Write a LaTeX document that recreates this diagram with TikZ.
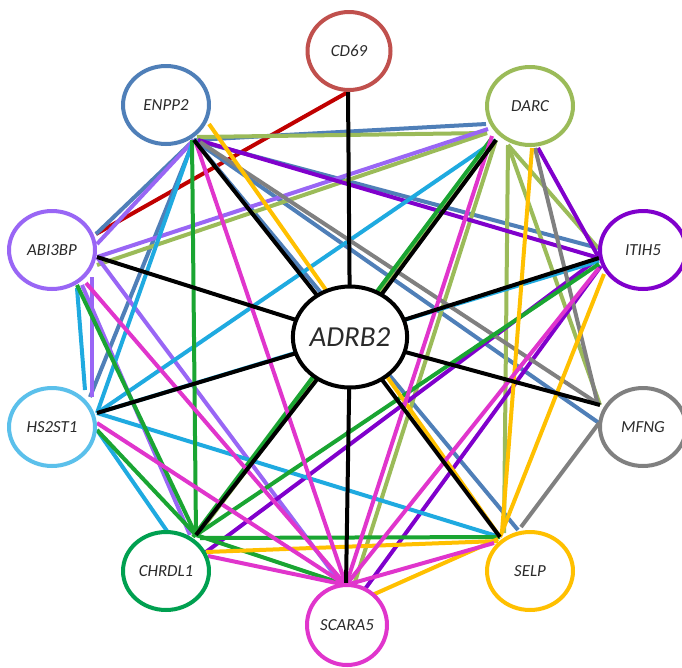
\documentclass[tikz,border=0pt]{standalone}
\usepackage{fontspec}
\setmainfont{Carlito}
\usetikzlibrary{shapes.geometric,backgrounds,calc}
\pgfdeclarelayer{paper}
\pgfsetlayers{paper,background,main}
\definecolor{cCD}{HTML}{C0504D}
\definecolor{lRed}{HTML}{C00000}
\definecolor{cEN}{HTML}{4F7FB8}
\definecolor{cDA}{HTML}{9BBB59}
\definecolor{cAB}{HTML}{9966F5}
\definecolor{cIT}{HTML}{8000CC}
\definecolor{cHSo}{HTML}{5BC0EB}
\definecolor{cHS}{HTML}{1FAAE0}
\definecolor{cMF}{HTML}{808080}
\definecolor{cCHo}{HTML}{00A050}
\definecolor{cCH}{HTML}{1AA532}
\definecolor{cSE}{HTML}{FFC000}
\definecolor{cSC}{HTML}{E035CC}
\definecolor{txt}{HTML}{2A2A2A}
\tikzset{
  gene/.style={ellipse, draw, line width=0.08cm, fill=white, inner sep=0pt,
    minimum width=1.72cm, minimum height=1.56cm, text=txt,
    font=\fontsize{9.6}{11}\selectfont\itshape},
  hubgene/.style={ellipse, draw=black, line width=0.08cm, fill=white, inner sep=0pt,
    minimum width=2.2cm, minimum height=2.02cm, text=txt,
    font=\fontsize{16.5}{19}\selectfont\itshape},
  ln/.style={line width=0.08cm},
}
\begin{document}
\begin{tikzpicture}[x=0.02cm,y=-0.02cm]
\useasboundingbox (0,0) rectangle (682,667);
\clip (0,0) rectangle (682,667);
\begin{pgfonlayer}{paper}
\fill[white] (0,0) rectangle (682,667);
\end{pgfonlayer}
% nodes
\node[gene, draw=cCD, minimum width=1.66cm] (CD) at (349,51) {CD69};
\node[gene, draw=cEN] (EN) at (166,105) {ENPP2};
\node[gene, draw=cDA] (DA) at (530,106) {DARC};
\node[gene, draw=cAB] (AB) at (52,250) {ABI3BP};
\node[gene, draw=cIT] (IT) at (643,250) {ITIH5};
\node[gene, draw=cHSo] (HS) at (52,427) {HS2ST1};
\node[gene, draw=cMF] (MF) at (643,427) {MFNG};
\node[gene, draw=cCHo] (CH) at (166,571) {CHRDL1};
\node[gene, draw=cSE] (SE) at (530,571) {SELP};
\node[gene, draw=cSC, minimum width=1.6cm, minimum height=1.6cm] (SC) at (347,625) {SCARA5};
\node[hubgene] (AD) at (350,337) {ADRB2};
% hub points
\coordinate (CDh) at ($(CD)+(-1,41)$);
\coordinate (ENh) at ($(EN)+(28,35)$);
\coordinate (ENy) at ($(EN)+(43,19)$);
\coordinate (DAl) at ($(DA)+(-44,18)$);
\coordinate (DAl2) at ($(DA)+(-43,27)$);
\coordinate (DAh) at ($(DA)+(-34,34)$);
\coordinate (DAd) at ($(DA)+(-22,39)$);
\coordinate (DAb) at ($(DA)+(2,42)$);
\coordinate (DAb2) at ($(DA)+(8,42)$);
\coordinate (ABu) at ($(AB)+(44,-16)$);
\coordinate (ABh) at ($(AB)+(45,7)$);
\coordinate (ABb) at ($(AB)+(30,35)$);
\coordinate (ITh) at ($(IT)+(-44,8)$);
\coordinate (ITu) at ($(IT)+(-45,-2)$);
\coordinate (ITy) at ($(IT)+(-39,24)$);
\coordinate (HSh) at ($(HS)+(45,-14)$);
\coordinate (MFh) at ($(MF)+(-43,-22)$);
\coordinate (MFl) at ($(MF)+(-44,-4)$);
\coordinate (CHh) at ($(CH)+(30,-36)$);
\coordinate (CHr) at ($(CH)+(40,-19)$);
\coordinate (SEh) at ($(SE)+(-30,-34)$);
\coordinate (SCh) at ($(SC)+(-1,-40)$);
\coordinate (SCr) at ($(SC)+(23,-29)$);
\begin{pgfonlayer}{background}
% CD69
\draw[ln, lRed] (CDh) -- (ABu);
% ENPP2 (steel blue)
\draw[ln, cEN] (ENh) -- (DAl);
\draw[ln, cEN] (ENh) -- (ITu);
\draw[ln, cEN] (ENh) -- (MFl);
\draw[ln, cEN] (ENh) -- ($(SE)+(-12,-41)$);
\draw[ln, cEN] (ENh) -- ($(HS)+(38,-30)$);
\draw[ln, cEN] (ENh) -- (ABu);
% DARC (olive)
\draw[ln, cDA] ($(ENh)+(3,-3)$) -- (DAl2);
\draw[ln, cDA] ($(ABh)+(0,8)$) -- (DAl2);
\draw[ln, cDA] (DAh) -- ($(CHh)+(3,-2)$);
\draw[ln, cDA] (DAh) -- ($(SCh)+(8,0)$);
\draw[ln, cDA] (DAd) -- ($(SEh)+(4,-4)$);
\draw[ln, cDA] (DAd) -- (MFh);
\draw[ln, cDA] (DAd) -- (ITu);
% ABI3BP (lavender)
\draw[ln, cAB] ($(AB)+(45,-6)$) -- (ENh);
\draw[ln, cAB] (ABh) -- ($(DA)+(-42,23)$);
\draw[ln, cAB] ($(AB)+(40,27)$) -- ($(HS)+(40,-30)$);
\draw[ln, cAB] (ABb) -- ($(CHh)+(-6,0)$);
\draw[ln, cAB] (ABh) -- ($(SCh)+(-4,0)$);
% ITIH5 (purple)
\draw[ln, cIT] (ITh) -- ($(ENh)+(4,0)$);
\draw[ln, cIT] (DAb2) -- (ITh);
\draw[ln, cIT] (ITh) -- (CHr);
\draw[ln, cIT] ($(ITh)+(2,8)$) -- ($(SC)+(18,-36)$);
% HS2ST1 (cyan)
\draw[ln, cHS] (HSh) -- ($(ENh)+(-2,4)$);
\draw[ln, cHS] (HSh) -- (DAh);
\draw[ln, cHS] ($(AB)+(25,38)$) -- ($(HS)+(33,-37)$);
\draw[ln, cHS] ($(HS)+(45,3)$) -- ($(CH)+(1,-40)$);
\draw[ln, cHS] (HSh) -- (SEh);
\draw[ln, cHS] (HSh) -- ($(ITh)+(0,3)$);
% MFNG (gray)
\draw[ln, cMF] (MFh) -- ($(ENh)+(6,2)$);
\draw[ln, cMF] ($(MFh)+(-2,0)$) -- ($(DA)+(5,42)$);
\draw[ln, cMF] (MFl) -- ($(SE)+(-9,-44)$);
% CHRDL1 (green)
\draw[ln, cCH] (CHh) -- ($(ENh)+(-2,0)$);
\draw[ln, cCH] ($(CHh)+(-3,2)$) -- ($(DAh)+(-4,-2)$);
\draw[ln, cCH] (CHh) -- ($(ITh)+(0,6)$);
\draw[ln, cCH] ($(CHh)+(4,3)$) -- (SEh);
\draw[ln, cCH] (CHh) -- (SCh);
\draw[ln, cCH] (CHh) -- ($(ABb)+(-5,0)$);
\draw[ln, cCH] ($(HS)+(45,3)$) -- (CHh);
% SELP (yellow)
\draw[ln, cSE] (SEh) -- (ENy);
\draw[ln, cSE] ($(SEh)+(2,-5)$) -- (DAb);
\draw[ln, cSE] (ITy) -- (SEh);
\draw[ln, cSE] (CHr) -- ($(SEh)+(-2,4)$);
\draw[ln, cSE] (SCr) -- ($(SEh)+(-2,2)$);
% SCARA5 (magenta)
\draw[ln, cSC] (SCh) -- ($(ENh)+(2,3)$);
\draw[ln, cSC] (SCh) -- ($(DAh)+(-4,-4)$);
\draw[ln, cSC] (SCh) -- ($(ITh)+(0,10)$);
\draw[ln, cSC] (SCh) -- ($(SEh)+(-6,6)$);
\draw[ln, cSC] (SCh) -- ($(CHr)+(2,4)$);
\draw[ln, cSC] (SCh) -- ($(HS)+(45,-4)$);
\draw[ln, cSC] (SCh) -- ($(ABb)+(4,-2)$);
% ADRB2 spokes (black)
\foreach \h in {CDh,ENh,DAh,ABh,ITh,HSh,MFh,CHh,SEh,SCh}
  \draw[ln, black] (AD.center) -- (\h);
\end{pgfonlayer}
\end{tikzpicture}
\end{document}
